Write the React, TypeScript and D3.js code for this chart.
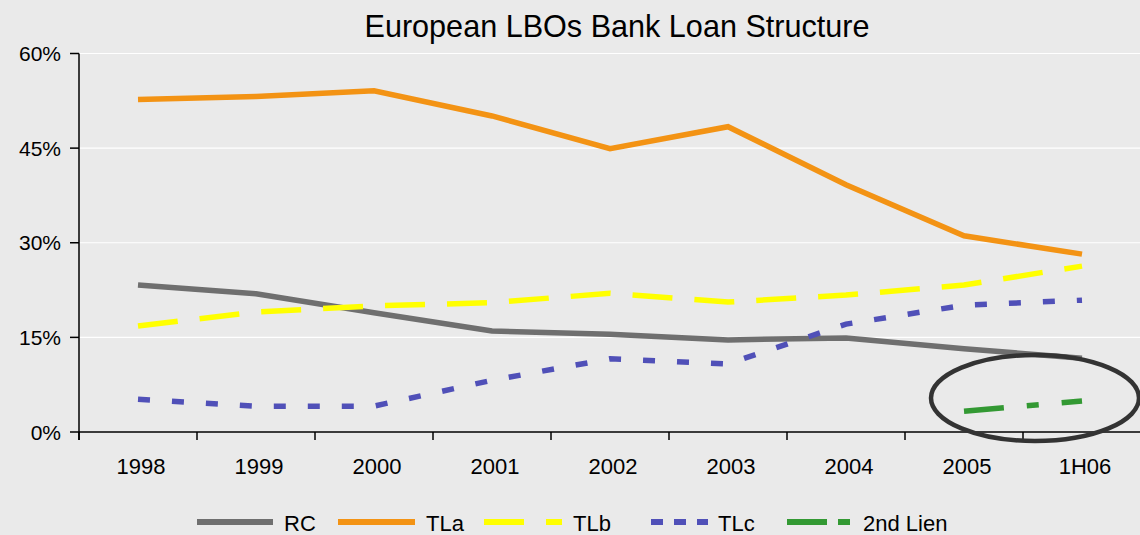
import * as d3 from 'd3';
import React from 'react';

const WIDTH = 1140;
const HEIGHT = 535;
const MARGIN_LEFT = 79;
const MARGIN_RIGHT = 0;
const PLOT_TOP = 53.5;
const PLOT_BOTTOM = 432;

const FONT = '"Liberation Sans", Arial, sans-serif';

const categories = ['1998', '1999', '2000', '2001', '2002', '2003', '2004', '2005', '1H06'];
const yTicks = [0, 15, 30, 45, 60];

const rc = [23.3, 21.9, 18.9, 16.0, 15.5, 14.6, 14.9, 13.2, 11.7];
const tla = [52.7, 53.2, 54.1, 50.1, 44.9, 48.4, 39.2, 31.1, 28.2];
const tlb = [16.8, 19.0, 20.0, 20.5, 22.0, 20.6, 21.7, 23.3, 26.3];
const tlc = [5.2, 4.1, 4.1, 8.2, 11.6, 10.8, 17.1, 20.1, 20.9];
const secondLien = [null, null, null, null, null, null, null, 3.3, 4.9];

const series = [
  { name: 'RC', values: rc, color: '#6f6f6f', dash: null, legendDash: null },
  { name: 'TLa', values: tla, color: '#f39314', dash: null, legendDash: null },
  { name: 'TLb', values: tlb, color: '#ffff00', dash: '40 22', legendDash: '40 22' },
  { name: 'TLc', values: tlc, color: '#5050b8', dash: '12 22', legendDash: '12 11' },
  { name: '2nd Lien', values: secondLien, color: '#339933', dash: '40 23 12 23', legendDash: '40 11 12 11' },
];

// legend layout (line start, line end, text x)
const legendLayout = [
  [197, 273, 284],
  [338, 415, 426],
  [484, 562, 573],
  [651, 708, 718],
  [787, 850, 863],
];

const App = (): JSX.Element => {
  const x = d3
    .scaleBand()
    .domain(categories)
    .range([MARGIN_LEFT, WIDTH - MARGIN_RIGHT + 1]);
  const y = d3.scaleLinear().domain([0, 60]).range([PLOT_BOTTOM, PLOT_TOP]);
  const cx = (c: string) => (x(c) ?? 0) + x.bandwidth() / 2;

  const line = d3
    .line<number | null>()
    .defined((d) => d !== null)
    .x((_, i) => cx(categories[i]))
    .y((d) => y(d as number));

  return (
    <div style={{ position: 'absolute', left: 0, top: 0 }}>
      <svg width={WIDTH} height={HEIGHT} style={{ display: 'block', fontFamily: FONT }}>
        <rect width={WIDTH} height={HEIGHT} fill="#eaeaea" />

        <text x={617} y={37} textAnchor="middle" fontSize={32} textLength={505} lengthAdjust="spacingAndGlyphs" fill="#000">
          European LBOs Bank Loan Structure
        </text>

        {/* grid */}
        {yTicks
          .filter((t) => t > 0)
          .map((t) => (
            <line key={t} x1={MARGIN_LEFT} x2={WIDTH} y1={y(t)} y2={y(t)} stroke="#fff" strokeWidth={1.2} />
          ))}

        {/* y axis */}
        <line x1={MARGIN_LEFT} x2={MARGIN_LEFT} y1={y(60)} y2={PLOT_BOTTOM + 8} stroke="#000" strokeWidth={1.5} />
        {yTicks.map((t) => (
          <g key={t}>
            <line x1={MARGIN_LEFT - 9} x2={MARGIN_LEFT} y1={y(t)} y2={y(t)} stroke="#000" strokeWidth={1.5} />
            <text x={61} y={y(t)} dy="0.36em" textAnchor="end" fontSize={21} fill="#000">
              {t}%
            </text>
          </g>
        ))}

        {/* x axis */}
        <line x1={MARGIN_LEFT} x2={WIDTH} y1={PLOT_BOTTOM} y2={PLOT_BOTTOM} stroke="#000" strokeWidth={1.5} />
        {categories.map((c) => (
          <g key={c}>
            <line x1={x(c)} x2={x(c)} y1={PLOT_BOTTOM} y2={PLOT_BOTTOM + 8} stroke="#000" strokeWidth={1.5} />
            <text x={cx(c) + 3} y={474} textAnchor="middle" fontSize={22} fill="#000">
              {c}
            </text>
          </g>
        ))}

        {/* series */}
        {series.map((s) => (
          <path
            key={s.name}
            d={line(s.values) ?? ''}
            fill="none"
            stroke={s.color}
            strokeWidth={5.5}
            strokeDasharray={s.dash ?? undefined}
          />
        ))}

        {/* highlight ellipse */}
        <ellipse cx={1035} cy={398} rx={104} ry={43} fill="none" stroke="#333" strokeWidth={4.5} />

        {/* legend */}
        {series.map((s, i) => {
          const [x1, x2, tx] = legendLayout[i];
          return (
            <g key={s.name}>
              <line x1={x1} x2={x2} y1={522} y2={522} stroke={s.color} strokeWidth={6} strokeDasharray={s.legendDash ?? undefined} />
              <text x={tx} y={531} fontSize={22} fill="#000">
                {s.name}
              </text>
            </g>
          );
        })}
      </svg>
    </div>
  );
};

export default App;
